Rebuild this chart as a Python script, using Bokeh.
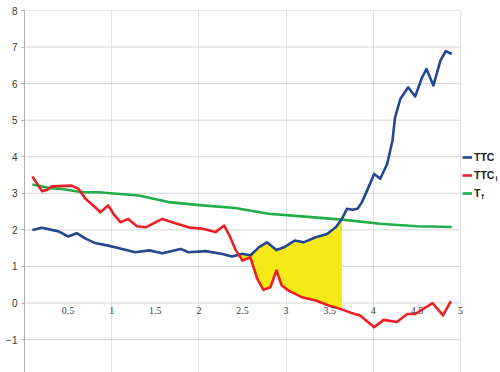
import numpy as np
from bokeh.plotting import figure
from bokeh.models import Range1d, FixedTicker, Legend, LegendItem, Label, LabelSet, ColumnDataSource
from bokeh.embed import file_html
from bokeh.resources import INLINE

# ---- data ----
blue_x = [0.09, 0.20, 0.39, 0.50, 0.60, 0.70, 0.81, 0.96, 1.12, 1.27, 1.43, 1.58, 1.79, 1.88,
          2.08, 2.27, 2.38, 2.50, 2.59, 2.69, 2.78, 2.89, 2.99, 3.10, 3.20, 3.34, 3.47, 3.57,
          3.64, 3.70, 3.76, 3.82, 3.87, 3.93, 4.01, 4.08, 4.16, 4.22, 4.25, 4.31, 4.40, 4.48,
          4.56, 4.61, 4.69, 4.77, 4.83, 4.90]
blue_y = [2.00, 2.06, 1.96, 1.82, 1.91, 1.76, 1.64, 1.57, 1.48, 1.39, 1.44, 1.36, 1.48, 1.39,
          1.42, 1.34, 1.27, 1.35, 1.30, 1.53, 1.66, 1.45, 1.54, 1.71, 1.66, 1.80, 1.89, 2.07,
          2.30, 2.58, 2.55, 2.58, 2.76, 3.08, 3.53, 3.40, 3.81, 4.44, 5.08, 5.58, 5.90, 5.65,
          6.17, 6.40, 5.95, 6.63, 6.89, 6.81]

red_x = [0.09, 0.20, 0.26, 0.31, 0.54, 0.62, 0.70, 0.81, 0.87, 0.96, 1.02, 1.10, 1.19, 1.29,
         1.39, 1.58, 1.73, 1.88, 2.04, 2.19, 2.29, 2.36, 2.42, 2.50, 2.59, 2.67, 2.74, 2.82,
         2.89, 2.95, 3.03, 3.18, 3.34, 3.49, 3.62, 3.75, 3.85, 4.01, 4.12, 4.27, 4.39, 4.48,
         4.68, 4.80, 4.89]
red_y = [3.46, 3.06, 3.09, 3.19, 3.21, 3.12, 2.85, 2.62, 2.48, 2.67, 2.44, 2.21, 2.30, 2.10,
         2.07, 2.30, 2.18, 2.07, 2.03, 1.94, 2.12, 1.80, 1.46, 1.16, 1.25, 0.66, 0.36, 0.43,
         0.89, 0.48, 0.34, 0.16, 0.07, -0.07, -0.16, -0.27, -0.34, -0.66, -0.46, -0.52, -0.30,
         -0.30, 0.00, -0.34, 0.05]

green_x = [0.09, 0.30, 0.43, 0.66, 0.85, 1.31, 1.65, 2.04, 2.42, 2.53, 2.80, 3.18, 3.64,
           4.08, 4.50, 4.90]
green_y = [3.24, 3.14, 3.12, 3.03, 3.03, 2.94, 2.76, 2.67, 2.60, 2.55, 2.44, 2.37, 2.28,
           2.17, 2.10, 2.08]

fill_start = 2.30
fill_end = 3.64

x_min, x_max = 0, 5
x_ticks = [0.5, 1, 1.5, 2, 2.5, 3, 3.5, 4, 4.5, 5]
x_tick_labels = ["0.5", "1", "1.5", "2", "2.5", "3", "3.5", "4", "4.5", "5"]
y_ticks = [-1, 0, 1, 2, 3, 4, 5, 6, 7, 8]

BLUE = "#23488f"
RED = "#ee1f24"
GREEN = "#1fae48"
YELLOW = "#f5e917"
FONT = "Liberation Sans"

# frame spans to the right edge; extra room right of x=5 holds the legend
p = figure(width=500, height=372, output_backend="svg", toolbar_location=None,
           x_range=Range1d(0, 5.459), y_range=Range1d(-1.9, 8), x_axis_location=None,
           min_border_left=24, min_border_right=0, min_border_top=10, min_border_bottom=0)
p.outline_line_color = None
p.background_fill_color = "white"
p.border_fill_color = "white"
p.ygrid.visible = False

p.yaxis.ticker = FixedTicker(ticks=y_ticks)
p.yaxis.axis_line_color = "#b0b0b0"
p.yaxis.major_tick_line_color = "#b0b0b0"
p.yaxis.major_tick_out = 3
p.yaxis.major_tick_in = 0
p.yaxis.minor_tick_line_color = None
p.yaxis.major_label_standoff = 4
p.yaxis.major_label_text_font = FONT
p.yaxis.major_label_text_font_size = "10px"
p.yaxis.major_label_text_color = "#3a3a3a"

# horizontal grid lines limited to the data x-extent
p.segment(x0=[x_min] * len(y_ticks), x1=[x_max] * len(y_ticks), y0=y_ticks, y1=y_ticks,
          line_color="#d4d4d4", line_width=1)

# fill between blue (top) and red (bottom)
fx = np.union1d(np.union1d(blue_x, red_x), np.linspace(fill_start, fill_end, 300))
fx = fx[(fx >= fill_start) & (fx <= fill_end)]
fb = np.interp(fx, blue_x, blue_y)
fr = np.interp(fx, red_x, red_y)
p.varea(x=fx, y1=np.minimum(fr, fb), y2=fb, fill_color=YELLOW, fill_alpha=1)

r_green = p.line(green_x, green_y, line_color=GREEN, line_width=2.6, line_join="round")
r_blue = p.line(blue_x, blue_y, line_color=BLUE, line_width=2.6, line_join="round")
r_red = p.line(red_x, red_y, line_color=RED, line_width=2.6, line_join="round")

# x tick labels along y = 0
src = ColumnDataSource(dict(x=x_ticks, y=[0] * len(x_ticks), t=x_tick_labels))
p.add_layout(LabelSet(x="x", y="y", text="t", source=src, y_offset=-4,
                      text_align="center", text_baseline="top",
                      text_font=FONT, text_font_size="10px", text_color="#3a3a3a"))

legend = Legend(items=[LegendItem(label="TTC", renderers=[r_blue]),
                       LegendItem(label="TTC", renderers=[r_red]),
                       LegendItem(label="T", renderers=[r_green])],
                location=(438, 173.3), border_line_color=None, background_fill_alpha=0,
                padding=0, margin=0, spacing=6, glyph_width=10, glyph_height=12,
                label_height=12, label_standoff=2, label_text_font=FONT,
                label_text_font_size="10.5px", label_text_font_style="bold",
                label_text_color="#222222")
p.add_layout(legend)

p.add_layout(Label(x=471, y=194, x_units="screen", y_units="screen", text="i",
                   text_font=FONT, text_font_size="7px", text_font_style="bold",
                   text_color="#222222", text_baseline="middle"))
p.add_layout(Label(x=457, y=176, x_units="screen", y_units="screen", text="f",
                   text_font=FONT, text_font_size="7px", text_font_style="bold",
                   text_color="#222222", text_baseline="middle"))

open("out.html", "w").write(file_html(p, INLINE))
